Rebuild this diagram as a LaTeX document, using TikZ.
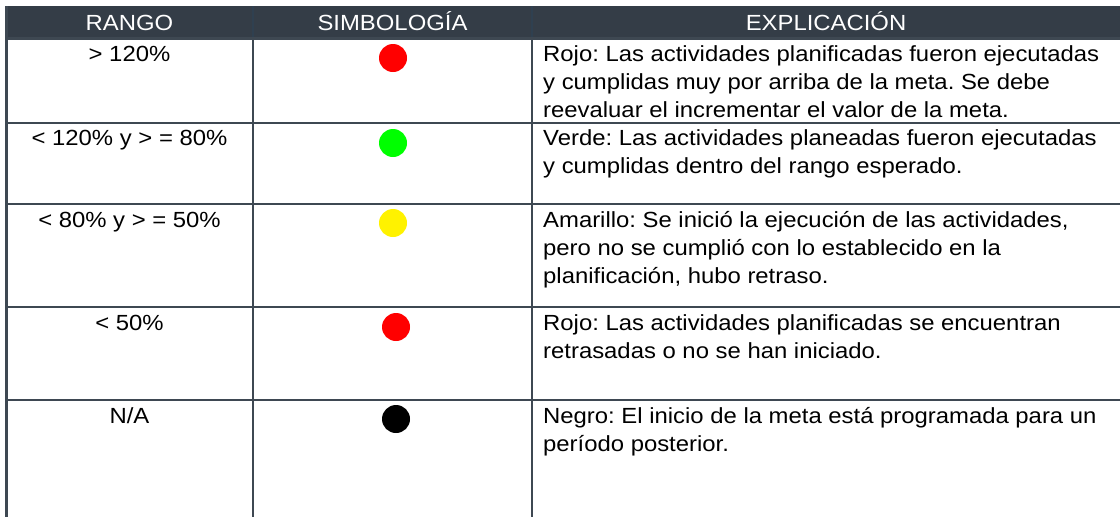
\documentclass[tikz,border=0pt]{standalone}
\usepackage{fontspec}
\setmainfont{Liberation Sans}[FakeStretch=1.09]
\frenchspacing
\definecolor{hdrgray}{HTML}{343D47}
\definecolor{rulegray}{HTML}{3E4852}
\definecolor{sepblue}{HTML}{2F4050}
\tikzset{
  hdr/.style={text=white, inner sep=0pt, anchor=base},
  rng/.style={inner sep=0pt, anchor=base},
  % base of a multi-line node sits on its last line
  expl/.style={inner sep=0pt, anchor=base west, align=left},
  dot/.style={circle, inner sep=0pt, minimum size=28pt},
  gridline/.style={draw=rulegray, line width=2.5pt}
}
\begin{document}
\begin{tikzpicture}[x=1pt, y=-1pt, font=\fontsize{21.9}{28}\selectfont]
  \useasboundingbox (0,0) rectangle (1120,517);

  % header band
  \fill[hdrgray] (6,6) rectangle (1120,38.5);
  \draw[sepblue, line width=1.5pt]
  (253,6) -- (253,38.5)
  (532,6) -- (532,38.5);

  % grid
  \draw[gridline]
  (6.5,6) -- (6.5,517)
  (253,38.5) -- (253,517)
  (532,38.5) -- (532,517)
  (6,38.5) -- (1120,38.5)
  (6,123) -- (1120,123)
  (6,204) -- (1120,204)
  (6,307) -- (1120,307)
  (6,400) -- (1120,400)
  ;

  \node[hdr] (hRango) at (129.5,30) {RANGO};
  \node[hdr] (hSimb) at (392.5,30) {SIMBOLOGÍA};
  \node[hdr] (hExpl) at (826,30) {EXPLICACIÓN};

  % rango
  \node[rng] (rango1) at (129.5,61) {> 120\%};
  \node[rng] (rango2) at (129.5,145) {< 120\% y > = 80\%};
  \node[rng] (rango3) at (129.5,227) {< 80\% y > = 50\%};
  \node[rng] (rango4) at (129.5,330) {< 50\%};
  \node[rng] (rango5) at (129.5,423) {N/A};

  % simbologia
  \node[dot, fill=red] (dot1) at (393,58) {};
  \node[dot, fill=green] (dot2) at (393,143) {};
  \node[dot, fill=yellow] (dot3) at (393,223) {};
  \node[dot, fill=red] (dot4) at (396,327) {};
  \node[dot, fill=black] (dot5) at (396,419) {};

  % explicacion
  \node[expl] (expl1) at (543,117)
  {Rojo: Las actividades planificadas fueron ejecutadas\\
    y cumplidas muy por arriba de la meta. Se debe\\
    reevaluar el incrementar el valor de la meta.};
  \node[expl] (expl2) at (543,173)
  {Verde: Las actividades planeadas fueron ejecutadas\\
    y cumplidas dentro del rango esperado.};
  \node[expl] (expl3) at (543,283)
  {Amarillo: Se inició la ejecución de las actividades,\\
    pero no se cumplió con lo establecido en la\\
    planificación, hubo retraso.};
  \node[expl] (expl4) at (543,358)
  {Rojo: Las actividades planificadas se encuentran\\
    retrasadas o no se han iniciado.};
  \node[expl] (expl5) at (543,451)
  {Negro: El inicio de la meta está programada para un\\
    período posterior.};
\end{tikzpicture}
\end{document}
